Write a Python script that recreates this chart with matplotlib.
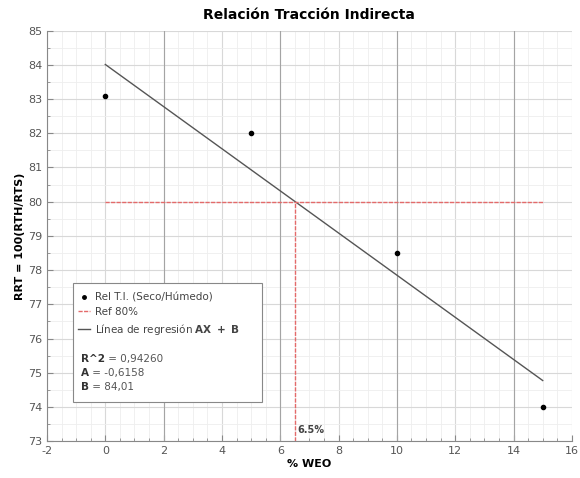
import numpy as np
import matplotlib.pyplot as plt
from matplotlib.lines import Line2D
from matplotlib.patches import Rectangle
from matplotlib.ticker import MultipleLocator

# Data
weo = [0, 5, 10, 15]
rrt = [83.1, 82.0, 78.5, 74.0]
A = -0.6158
B = 84.01
r2 = "0,94260"
ref = 80
x_ref = 6.5

plt.rcParams["font.family"] = "DejaVu Sans"
plt.rcParams["axes.unicode_minus"] = False

fig = plt.figure(figsize=(5.8, 4.78), dpi=100)
ax = fig.add_axes([0.081, 0.077, 0.905, 0.859])

# Grid
ax.xaxis.set_major_locator(MultipleLocator(2))
ax.yaxis.set_major_locator(MultipleLocator(1))
ax.xaxis.set_minor_locator(MultipleLocator(0.5))
ax.yaxis.set_minor_locator(MultipleLocator(0.5))
ax.set_axisbelow(True)
ax.grid(which="major", color="#d8d8d8", lw=0.8)
ax.grid(which="minor", color="#eeeeee", lw=0.6)
for xv in [2, 6, 10, 14]:
    ax.axvline(xv, color="#a4a4a4", lw=0.8, zorder=0.8)

# Regression line
xs = np.array([weo[0], weo[-1]])
ax.plot(xs, A * xs + B, color="#555555", lw=1.0, zorder=2)

# Reference lines
ax.plot([weo[0], weo[-1]], [ref, ref], color="#e46a6a", lw=1.0, ls="--", dashes=(3, 1), zorder=2)
ax.plot([x_ref, x_ref], [73, ref], color="#e46a6a", lw=1.0, ls="--", dashes=(3, 1), zorder=2)

# Points
ax.scatter(weo, rrt, s=9, color="black", zorder=3)

ax.text(x_ref + 0.08, 73.25, "6.5%", fontsize=7, fontweight="bold", color="#444444")

ax.set_xlim(-2, 16)
ax.set_ylim(73, 85)
for s in ["top", "right"]:
    ax.spines[s].set_visible(False)
for s in ["left", "bottom"]:
    ax.spines[s].set_color("#888888")
ax.tick_params(which="both", direction="in", colors="#888888", labelcolor="#555555", labelsize=8)
ax.tick_params(which="major", length=4)
ax.tick_params(which="minor", length=2)

ax.set_title("Relación Tracción Indirecta", fontsize=10, fontweight="bold", pad=8)
ax.set_xlabel("% WEO", fontsize=8, fontweight="bold", labelpad=2)
ax.set_ylabel("RRT = 100(RTH/RTS)", fontsize=8, fontweight="bold", labelpad=2)

# Legend box
ax.add_patch(Rectangle((0.05, 0.095), 0.36, 0.29, transform=ax.transAxes,
                       facecolor="white", edgecolor="#888888", lw=0.8, zorder=4))
handles = [
    Line2D([], [], marker="o", ls="none", color="black", markersize=2.5),
    Line2D([], [], color="#e46a6a", ls="--", lw=1.0, dashes=(3, 1)),
    Line2D([], [], color="#555555", lw=1.0),
]
labels = ["Rel T.I. (Seco/Húmedo)", "Ref 80%", r"Línea de regresión $\mathbf{AX\ +\ B}$"]
leg = ax.legend(handles, labels, loc="upper left", bbox_to_anchor=(0.055, 0.368),
                frameon=False, fontsize=7.5, handlelength=1.2, handletextpad=0.4,
                labelspacing=0.45, borderpad=0.2, borderaxespad=0)
leg.set_zorder(5)
for t in leg.get_texts():
    t.set_color("#444444")

stats = [("R^2", " = " + r2), ("A", " = " + str(A).replace(".", ",")), ("B", " = " + str(B).replace(".", ","))]
y0 = 0.199
for i, (name, val) in enumerate(stats):
    t = ax.text(0.065, y0 - i * 0.034, name, transform=ax.transAxes, fontsize=7.5,
                fontweight="bold", color="#333333", va="center", zorder=6)
    ax.annotate(val, xy=(1, 0.5), xycoords=t, va="center", fontsize=7.5, color="#555555", zorder=6)

fig.savefig("out.png", dpi=100)
